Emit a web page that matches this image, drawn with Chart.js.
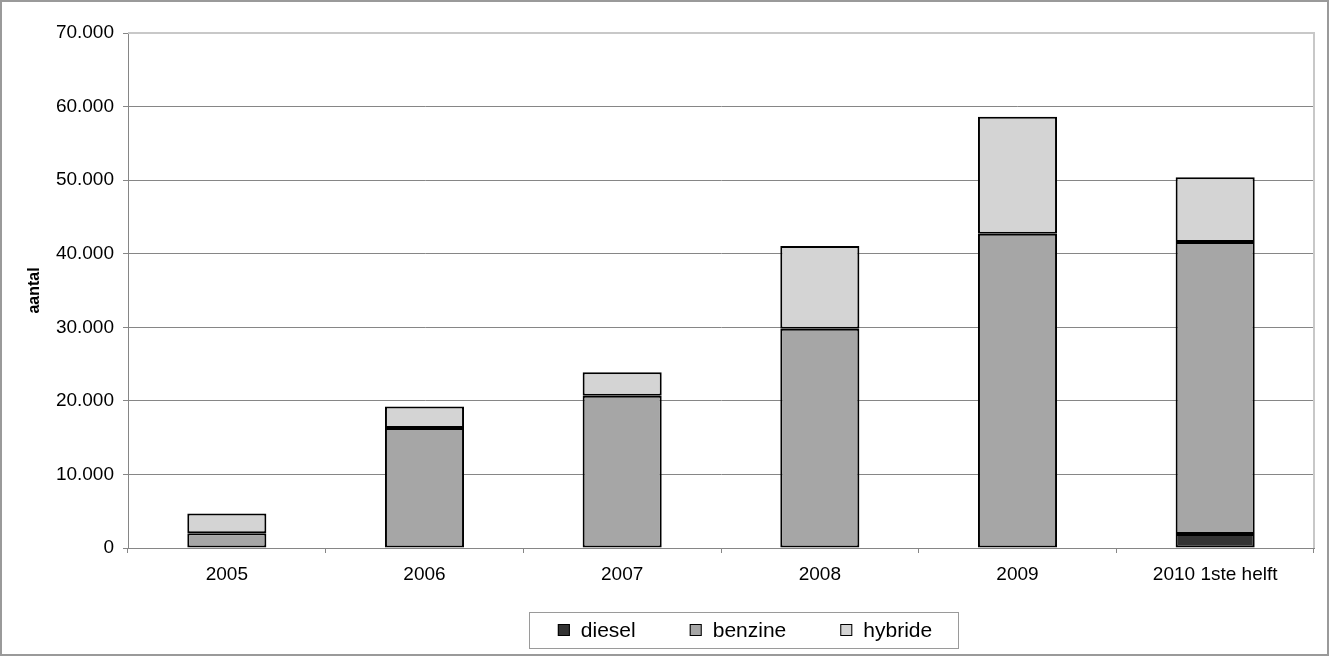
<!DOCTYPE html>
<html>
<head>
<meta charset="utf-8">
<script src="https://cdn.jsdelivr.net/npm/chart.js@4/dist/chart.umd.min.js"></script>
<style>
  body { margin: 0; background: #fff; }
  #wrap { width: 1329px; height: 656px; }
</style>
</head>
<body>
<div id="wrap"><canvas id="chart" width="1329" height="656"></canvas></div>
<script>
var categories = ['2005', '2006', '2007', '2008', '2009', '2010 1ste helft'];
var diesel = [0, 0, 0, 0, 0, 1900];
var benzine = [2000, 16300, 20700, 29800, 42700, 39700];
var hybride = [2700, 2950, 3200, 11250, 15900, 8800];
var seriesNames = ['diesel', 'benzine', 'hybride'];
var seriesColors = ['#333333', '#a6a6a6', '#d4d4d4'];
var yTicks = [0, 10000, 20000, 30000, 40000, 50000, 60000, 70000];

var fontFamily = '"Liberation Sans", Arial, sans-serif';

function dotted(v) {
    return String(v).replace(/\B(?=(\d{3})+(?!\d))/g, '.');
}

// frame round the whole picture and the plot area
var framePlugin = {
    id: 'frame',
    beforeDraw: function(chart) {
        var ctx = chart.ctx;
        ctx.save();
        ctx.strokeStyle = '#9a9a9a';
        ctx.lineWidth = 2;
        ctx.strokeRect(1, 1, chart.width - 2, chart.height - 2);
        ctx.restore();
    },
    afterDatasetsDraw: function(chart) {
        var a = chart.chartArea, ctx = chart.ctx;
        ctx.save();
        ctx.strokeStyle = '#c8c8c8';
        ctx.lineWidth = 2;
        ctx.beginPath();
        ctx.moveTo(a.left, a.top);
        ctx.lineTo(a.right, a.top);
        ctx.lineTo(a.right, a.bottom);
        ctx.stroke();
        ctx.restore();
    }
};

// boxed legend below the chart
var boxLegend = {
    id: 'boxLegend',
    afterDraw: function(chart) {
        var ctx = chart.ctx;
        var sets = chart.data.datasets;
        var fontSize = 21, box = 12, gap = 11, spacing = 54;
        ctx.save();
        ctx.font = fontSize + 'px ' + fontFamily;
        var total = 0;
        var widths = sets.map(function(d) {
            var w = box + gap + ctx.measureText(d.label).width;
            total += w;
            return w;
        });
        total += spacing * (sets.length - 1);
        var cx = 745, cy = 630;
        var left = cx - total / 2;
        ctx.strokeStyle = '#9a9a9a';
        ctx.lineWidth = 1;
        ctx.strokeRect(529.5, 612.5, 429, 36);
        var x = left;
        sets.forEach(function(d, i) {
            ctx.fillStyle = d.backgroundColor;
            ctx.fillRect(x, cy - box / 2, box, box);
            ctx.strokeStyle = '#000';
            ctx.lineWidth = 1;
            ctx.strokeRect(x + 0.5, cy - box / 2 + 0.5, box - 1, box - 1);
            ctx.fillStyle = '#000';
            ctx.textBaseline = 'middle';
            ctx.fillText(d.label, x + box + gap, cy + 1);
            x += widths[i] + spacing;
        });
        ctx.restore();
    }
};

var seriesData = [diesel, benzine, hybride];

new Chart(document.getElementById('chart').getContext('2d'), {
    type: 'bar',
    data: {
        labels: categories,
        datasets: seriesNames.map(function(name, i) {
            return {
                label: name,
                data: seriesData[i],
                backgroundColor: seriesColors[i],
                borderColor: '#000',
                borderWidth: 2,
                borderSkipped: false,
                barPercentage: 0.4,
                categoryPercentage: 1
            };
        })
    },
    options: {
        responsive: false,
        animation: false,
        devicePixelRatio: 1,
        layout: { padding: { left: 21, right: 15, top: 33, bottom: 68 } },
        plugins: {
            legend: { display: false },
            tooltip: { enabled: false }
        },
        scales: {
            x: {
                stacked: true,
                grid: { display: true, drawOnChartArea: false, color: '#868686', tickLength: 5, offset: true },
                border: { color: '#868686', width: 1 },
                ticks: { color: '#000', font: { family: fontFamily, size: 19 }, padding: 10, maxRotation: 0 },
                afterFit: function(scale) { scale.height = 40; }
            },
            y: {
                stacked: true,
                min: 0,
                max: 70000,
                afterBuildTicks: function(scale) {
                    scale.ticks = yTicks.map(function(v) { return { value: v }; });
                },
                grid: { color: '#868686', tickLength: 5 },
                border: { color: '#868686', width: 1 },
                ticks: {
                    color: '#000',
                    font: { family: fontFamily, size: 19 },
                    padding: 9,
                    callback: function(v) { return dotted(v); }
                },
                title: {
                    display: true,
                    text: 'aantal',
                    color: '#000',
                    font: { family: fontFamily, size: 16, weight: 'bold' },
                    padding: { top: 4, bottom: 4 }
                },
                afterFit: function(scale) { scale.width = 107; }
            }
        }
    },
    plugins: [framePlugin, boxLegend]
});
</script>
</body>
</html>
